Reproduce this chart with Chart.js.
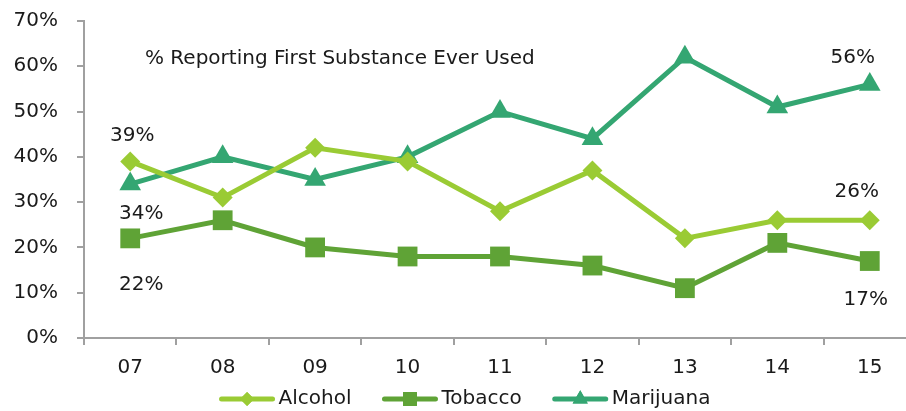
<!DOCTYPE html>
<html>
<head>
<meta charset="utf-8">
<script src="https://cdn.jsdelivr.net/npm/chart.js@4"></script>
<style>
  html, body { margin: 0; padding: 0; background: #fff; overflow: hidden; }
  canvas { display: block; }
</style>
</head>
<body>
<canvas id="myChart" width="930" height="411"></canvas>
<script>
// school years on the x axis
var years = ["07", "08", "09", "10", "11", "12", "13", "14", "15"];

// % reporting each as first substance ever used
var alcohol = [39, 31, 42, 39, 28, 37, 22, 26, 26];
var tobacco = [22, 26, 20, 18, 18, 16, 11, 21, 17];
var marijuana = [34, 40, 35, 40, 50, 44, 62, 51, 56];

var yTicks = [0, 10, 20, 30, 40, 50, 60, 70];
var chartTitle = "% Reporting First Substance Ever Used";

var fontName = "'DejaVu Sans', 'Open Sans', sans-serif";
var textColor = "#1a1a1a";
var axisColor = "#a0a0a0";

// which points get a value label, and where it sits relative to the point
var valueLabels = [
    { ds: 0, i: 0, dx: 2, dy: -26 },
    { ds: 2, i: 0, dx: 11, dy: 30 },
    { ds: 1, i: 0, dx: 11, dy: 46 },
    { ds: 2, i: 8, dx: -17, dy: -27 },
    { ds: 0, i: 8, dx: -13, dy: -28 },
    { ds: 1, i: 8, dx: -4, dy: 39 },
];

var labelsPlugin = {
    id: "valueLabels",
    afterDatasetsDraw(chart) {
        var ctx = chart.ctx;
        ctx.save();
        ctx.font = "20px " + fontName;
        ctx.fillStyle = textColor;
        ctx.textAlign = "center";
        ctx.textBaseline = "middle";
        valueLabels.forEach(l => {
            var pt = chart.getDatasetMeta(l.ds).data[l.i];
            var v = chart.data.datasets[l.ds].data[l.i];
            ctx.fillText(v + "%", pt.x + l.dx, pt.y + l.dy);
        });
        // the note inside the plot
        ctx.textAlign = "left";
        ctx.fillText(chartTitle, chart.chartArea.left + 61, chart.chartArea.top + 38);
        ctx.restore();
    }
};

// legend drawn as line + marker, like the original
var legendPlugin = {
    id: "lineLegend",
    afterDraw(chart) {
        var ctx = chart.ctx;
        var sets = chart.data.datasets;
        var lineW = 55, gap = 4, spacing = 31;
        ctx.save();
        ctx.font = "20px " + fontName;
        var total = 0;
        sets.forEach((d, k) => {
            total += lineW + gap + ctx.measureText(d.label).width;
            if (k < sets.length - 1) total += spacing;
        });
        var x = chart.width / 2 - total / 2;
        var y = 399;
        sets.forEach(d => {
            ctx.strokeStyle = d.borderColor;
            ctx.lineWidth = 5;
            ctx.lineCap = "round";
            ctx.beginPath();
            ctx.moveTo(x + 2, y);
            ctx.lineTo(x + lineW - 2, y);
            ctx.stroke();
            ctx.fillStyle = d.backgroundColor;
            Chart.helpers.drawPoint(ctx, {
                pointStyle: d.pointStyle,
                radius: d.pointRadius * 0.7,
                borderWidth: 0,
                rotation: 0
            }, x + lineW / 2, y);
            ctx.fill();
            x += lineW + gap;
            ctx.fillStyle = textColor;
            ctx.textBaseline = "middle";
            ctx.textAlign = "left";
            ctx.fillText(d.label, x, y);
            x += ctx.measureText(d.label).width + spacing;
        });
        ctx.restore();
    }
};

function series(label, values, color, style, r) {
    return {
        label: label,
        data: values,
        borderColor: color,
        backgroundColor: color,
        borderWidth: 5,
        pointStyle: style,
        pointRadius: r,
        pointHoverRadius: r,
        pointBorderWidth: 0,
        tension: 0
    };
}

var data = {
    labels: years,
    datasets: [
        series("Alcohol", alcohol, "#9acb34", "rectRot", 10),
        series("Tobacco", tobacco, "#5fa336", "rect", 14),
        series("Marijuana", marijuana, "#34a672", "triangle", 12.5)
    ]
};

const config = {
    type: "line",
    data: data,
    plugins: [labelsPlugin, legendPlugin],
    options: {
        responsive: false,
        animation: false,
        devicePixelRatio: 1,
        layout: {
            padding: { top: 21, right: 9, left: 0, bottom: 0 }
        },
        plugins: {
            legend: { display: false },
            title: { display: false },
            tooltip: { enabled: false }
        },
        scales: {
            x: {
                offset: true,
                grid: {
                    offset: true,
                    drawOnChartArea: false,
                    drawTicks: true,
                    tickLength: 7,
                    color: axisColor,
                    lineWidth: 2
                },
                border: { display: true, color: axisColor, width: 2 },
                ticks: {
                    color: textColor,
                    font: { family: fontName, size: 20 },
                    padding: 11,
                    maxRotation: 0
                },
                afterFit(scale) { scale.height = 73; }
            },
            y: {
                min: 0,
                max: 70,
                afterBuildTicks(scale) {
                    scale.ticks = yTicks.map(v => ({ value: v }));
                },
                grid: {
                    drawOnChartArea: false,
                    drawTicks: true,
                    tickLength: 7,
                    color: axisColor,
                    lineWidth: 2
                },
                border: { display: true, color: axisColor, width: 2 },
                ticks: {
                    color: textColor,
                    font: { family: fontName, size: 20 },
                    padding: 19,
                    callback: v => v + "%"
                },
                afterFit(scale) {
                    scale.width = 84;
                    scale.paddingTop = 0;
                    scale.paddingBottom = 0;
                }
            }
        }
    }
};

const myChart = new Chart(document.getElementById("myChart"), config);
</script>
</body>
</html>
